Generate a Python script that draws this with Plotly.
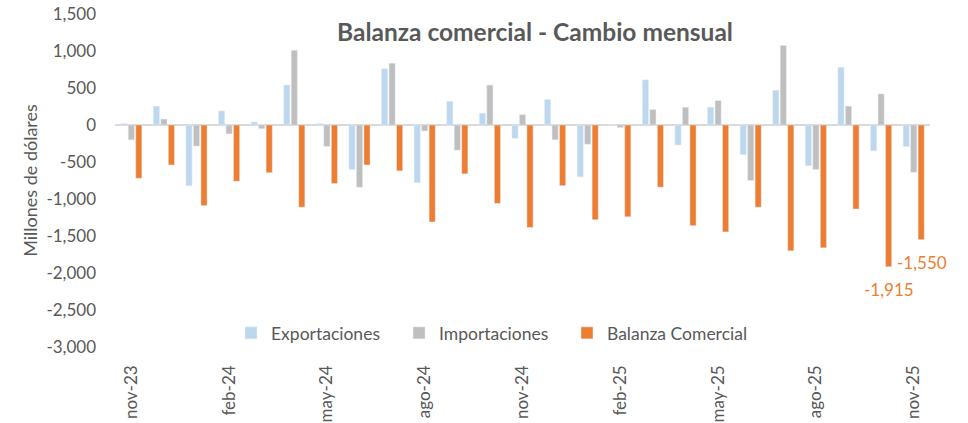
import plotly.graph_objects as go

months = ["nov-23", "dic-23", "ene-24", "feb-24", "mar-24", "abr-24", "may-24", "jun-24",
          "jul-24", "ago-24", "sep-24", "oct-24", "nov-24", "dic-24", "ene-25", "feb-25",
          "mar-25", "abr-25", "may-25", "jun-25", "jul-25", "ago-25", "sep-25", "oct-25", "nov-25"]

exportaciones = [20, 255, -820, 190, 40, 540, 20, -600, 760, -780, 320, 160, -180, 345,
                 -700, -10, 610, -270, 240, -400, 470, -550, 780, -350, -290]
importaciones = [-200, 80, -285, -120, -50, 1010, -290, -840, 835, -80, -340, 540, 140, -200,
                 -260, -35, 210, 240, 330, -750, 1075, -600, 255, 420, -640]
balanza = [-720, -540, -1090, -760, -645, -1110, -790, -540, -620, -1310, -660, -1060, -1385, -820,
           -1280, -1240, -840, -1360, -1445, -1110, -1700, -1660, -1135, -1915, -1550]

x_tick_labels = ["nov-23", "feb-24", "may-24", "ago-24", "nov-24", "feb-25", "may-25", "ago-25", "nov-25"]
y_tick_vals = [1500, 1000, 500, 0, -500, -1000, -1500, -2000, -2500, -3000]
y_tick_text = ["1,500", "1,000", "500", "0", "-500", "-1,000", "-1,500", "-2,000", "-2,500", "-3,000"]
labeled_months = ["oct-25", "nov-25"]

FONT = "Lato"
GREY = "#595959"
PL, PR = 115, 930
PW = PR - PL

def px_to_paper_x(px):
    return (px - PL) / PW

fig = go.Figure()
fig.add_trace(go.Bar(x=months, y=exportaciones, name="Exportaciones", marker_color="#BDD7EE",
                     legend="legend"))
fig.add_trace(go.Bar(x=months, y=importaciones, name="Importaciones", marker_color="#BFBFBF",
                     legend="legend2"))
fig.add_trace(go.Bar(x=months, y=balanza, name="Balanza Comercial", marker_color="#ED7D31",
                     legend="legend3"))

for m in labeled_months:
    v = balanza[months.index(m)]
    fig.add_annotation(x=m, y=v, text=f"{v:,}", showarrow=False, xshift=8, yshift=-23,
                       font=dict(family=FONT, size=17, color="#ED7D31"))

leg_common = dict(orientation="h", xanchor="left", y=(347 - 333) / 333, yanchor="middle",
                  font=dict(family=FONT, size=17.5, color=GREY), bgcolor="rgba(0,0,0,0)",
                  itemwidth=30)

fig.update_layout(
    width=968, height=423,
    margin=dict(l=PL, r=968 - PR, t=14, b=76, autoexpand=False),
    paper_bgcolor="white", plot_bgcolor="white",
    barmode="group", bargap=0.31, bargroupgap=0.18,
    font=dict(family=FONT, color=GREY),
    title=dict(text="<b>Balanza comercial - Cambio mensual</b>", x=535 / 968, xanchor="center",
               y=1 - 32 / 423, yanchor="middle", yref="container",
               font=dict(family=FONT, size=24.5, color=GREY)),
    legend=dict(x=px_to_paper_x(231), **leg_common),
    legend2=dict(x=px_to_paper_x(399), **leg_common),
    legend3=dict(x=px_to_paper_x(567), **leg_common),
    showlegend=True,
)
fig.update_xaxes(type="category", categoryorder="array", categoryarray=months,
                 range=[-0.5, len(months) - 0.5], autorange=False,
                 tickmode="array", tickvals=x_tick_labels, ticktext=x_tick_labels,
                 tickangle=-90, tickfont=dict(family=FONT, size=17, color=GREY),
                 showgrid=False, showline=False, ticks="", zeroline=False,
                 automargin=False, ticklabelstandoff=14)
fig.update_yaxes(range=[-3000, 1500], autorange=False, tickmode="array", tickvals=y_tick_vals,
                 ticktext=y_tick_text,
                 tickfont=dict(family=FONT, size=17, color=GREY), showgrid=False, showline=False,
                 zeroline=True, zerolinecolor="#D9D9D9", zerolinewidth=1.5, ticks="",
                 automargin=False, ticklabelstandoff=18,
                 title=dict(text="Millones de dólares", font=dict(family=FONT, size=18, color=GREY),
                            standoff=4))

fig.write_html("out.html", config={"displayModeBar": False},
               post_script="document.body.style.margin='0';")
